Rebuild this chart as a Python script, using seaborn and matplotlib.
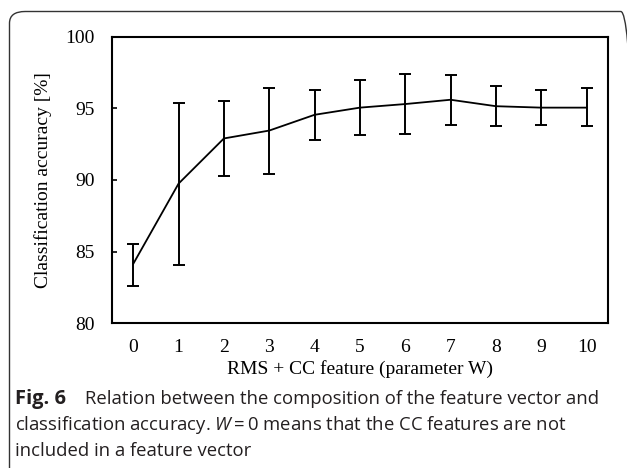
import numpy as np
import pandas as pd
import seaborn as sns
import matplotlib
matplotlib.use("Agg")
import matplotlib.pyplot as plt
from matplotlib.patches import FancyBboxPatch

# ---- data ----
W = [0, 1, 2, 3, 4, 5, 6, 7, 8, 9, 10]
accuracy = [84.15, 89.75, 92.9, 93.45, 94.55, 95.05, 95.3, 95.6, 95.15, 95.05, 95.05]
upper = [85.55, 95.35, 95.5, 96.45, 96.25, 97.0, 97.4, 97.35, 96.55, 96.3, 96.4]
lower = [82.6, 84.05, 90.3, 90.4, 92.8, 93.15, 93.2, 93.85, 93.75, 93.85, 93.75]
y_ticks = [80, 85, 90, 95, 100]
x_label = "RMS + CC feature (parameter W)"
y_label = "Classification accuracy [%]"

df = pd.DataFrame({"W": W, "acc": accuracy, "lo": lower, "hi": upper})

sns.set_theme(style="white")
plt.rcParams["font.family"] = ["Liberation Serif", "DejaVu Serif"]
plt.rcParams["mathtext.fontset"] = "custom"
plt.rcParams["mathtext.rm"] = "Open Sans"
plt.rcParams["mathtext.it"] = "Open Sans:italic"

H = 468.0
Wd = 627.0
fig = plt.figure(figsize=(6.27, 4.68), dpi=100)
ax = fig.add_axes([111.5 / Wd, 1 - 323.3 / H, (608.3 - 111.5) / Wd, (323.3 - 36.7) / H])

sns.lineplot(data=df, x="W", y="acc", ax=ax, color="black", linewidth=1.3)
yerr = np.array([df["acc"] - df["lo"], df["hi"] - df["acc"]])
ax.errorbar(df["W"], df["acc"], yerr=yerr, fmt="none", ecolor="black",
            elinewidth=1.4, capsize=4, capthick=1.4)

ax.set_xlim(-0.48, 10.48)
ax.set_ylim(80, 100)
ax.set_yticks(y_ticks)
ax.set_xticks(W)
ax.set_xlabel(x_label, fontsize=14, color="black", labelpad=3)
ax.set_ylabel(y_label, fontsize=14, color="black", labelpad=10)
ax.tick_params(axis="y", direction="in", length=3.5, width=1.2, labelsize=14,
               colors="black", left=True, pad=12)
ax.tick_params(axis="x", length=0, labelsize=14, colors="black", pad=11)
for s in ax.spines.values():
    s.set_color("black")
    s.set_linewidth(1.5)
ax.set_facecolor("white")

# outer rounded frame
box = FancyBboxPatch((9.5 / Wd, -0.1), 1.0, 1 - 11.5 / H + 0.1,
                     boxstyle="round,pad=0,rounding_size=0.025",
                     transform=fig.transFigure, fill=False,
                     edgecolor="#333333", linewidth=1.0, clip_on=False)
fig.patches.append(box)

# caption
cap_font = ["Open Sans", "DejaVu Sans"]
fs = 13.3
col = "#231f20"
fig.text(15 / Wd, 1 - 404 / H, "Fig. 6", fontsize=14.5, fontweight="bold",
         family=cap_font, va="baseline", ha="left", color=col)
fig.text(85 / Wd, 1 - 404 / H,
         "Relation between the composition of the feature vector and",
         fontsize=fs, family=cap_font, va="baseline", ha="left", color=col)
fig.text(15 / Wd, 1 - 430 / H,
         "classification accuracy. $W = 0$ means that the CC features are not",
         fontsize=fs, family=cap_font, va="baseline", ha="left", color=col)
fig.text(15 / Wd, 1 - 456 / H, "included in a feature vector",
         fontsize=fs, family=cap_font, va="baseline", ha="left", color=col)

fig.savefig("out.png", dpi=100)
